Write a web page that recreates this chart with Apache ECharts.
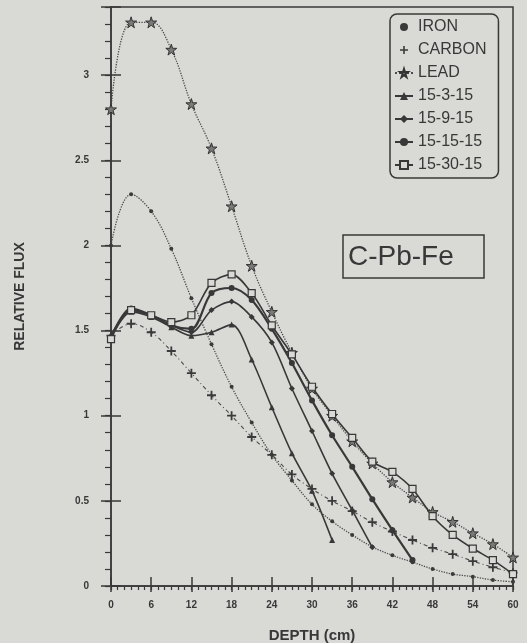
<!DOCTYPE html>
<html><head><meta charset="utf-8">
<script src="https://cdn.jsdelivr.net/npm/echarts@6/dist/echarts.min.js"></script>
<style>html,body{margin:0;padding:0;background:#d9d9d6;}#c{width:527px;height:643px;}</style>
</head><body><div id="c"></div>
<script>
// ---- data ----
const depth = [0, 3, 6, 9, 12, 15, 18, 21, 24, 27, 30, 33, 36, 39, 42, 45, 48, 51, 54, 57, 60];
const xTickLabels = ['0', '6', '12', '18', '24', '30', '36', '42', '48', '54', '60'];
const yTickLabels = ['0', '0.5', '1', '1.5', '2', '2.5', '3'];
const seriesNames = ['IRON', 'CARBON', 'LEAD', '15-3-15', '15-9-15', '15-15-15', '15-30-15'];
const iron = [2.0, 2.30, 2.20, 1.98, 1.69, 1.42, 1.17, 0.96, 0.77, 0.62, 0.48, 0.38, 0.30, 0.23, 0.18, 0.14, 0.10, 0.07, 0.055, 0.035, 0.025];
const carbon = [1.47, 1.54, 1.49, 1.38, 1.25, 1.12, 1.0, 0.875, 0.77, 0.655, 0.57, 0.50, 0.44, 0.375, 0.32, 0.27, 0.224, 0.187, 0.146, 0.11, 0.078];
const lead = [2.8, 3.31, 3.31, 3.15, 2.83, 2.57, 2.23, 1.88, 1.61, 1.37, 1.16, 1.0, 0.85, 0.72, 0.61, 0.52, 0.435, 0.377, 0.31, 0.246, 0.168];
const s15_3_15 = [1.46, 1.61, 1.58, 1.52, 1.47, 1.49, 1.535, 1.33, 1.05, 0.78, 0.56, 0.27];
const s15_9_15 = [1.47, 1.62, 1.59, 1.53, 1.49, 1.62, 1.67, 1.58, 1.43, 1.16, 0.91, 0.66, 0.445, 0.227];
const s15_15_15 = [1.46, 1.63, 1.59, 1.53, 1.51, 1.72, 1.75, 1.68, 1.51, 1.31, 1.09, 0.885, 0.70, 0.51, 0.328, 0.152];
const s15_30_15 = [1.45, 1.62, 1.59, 1.55, 1.59, 1.78, 1.83, 1.72, 1.53, 1.36, 1.17, 1.01, 0.87, 0.73, 0.67, 0.57, 0.41, 0.30, 0.22, 0.152, 0.07];

// ---- styling ----
const bg = '#d9d9d6';
const ink = '#383838';
const ff = '"Liberation Sans", Arial, sans-serif';
const plusSym = 'path://M4,0H6V4H10V6H6V10H4V6H0V4H4Z';
const starSym = 'path://M50,0L61,35L98,35L68,57L79,91L50,70L21,91L32,57L2,35L39,35Z';

const pairs = arr => arr.map((v, i) => [depth[i], v]);

const chart = echarts.init(document.getElementById('c'), null, {renderer: 'canvas'});

function mkX(extra) {
  return Object.assign({
    type: 'value', min: 0, max: 60, position: 'bottom', gridIndex: 0,
    splitLine: {show: false}, axisLine: {show: false, onZero: false},
    axisLabel: {show: false}
  }, extra);
}
function mkY(extra) {
  return Object.assign({
    type: 'value', min: 0, max: 3.4, position: 'left', gridIndex: 0,
    splitLine: {show: false}, axisLine: {show: false, onZero: false},
    axisLabel: {show: false}
  }, extra);
}

const option = {
  animation: false,
  backgroundColor: bg,
  grid: {left: 111, right: 14, top: 7, bottom: 57, show: true, borderColor: ink, borderWidth: 1.5,
         backgroundColor: 'transparent', outerBoundsMode: 'none'},
  legend: {
    orient: 'vertical', left: 390, top: 14, padding: [5, 12, 5, 4],
    itemWidth: 18, itemHeight: 10, itemGap: 7,
    borderColor: ink, borderWidth: 1.5, borderRadius: 7,
    textStyle: {fontSize: 16, color: ink, fontFamily: ff},
    data: [
      {name: 'IRON', lineStyle: {opacity: 0}},
      {name: 'CARBON', lineStyle: {opacity: 0}},
      {name: 'LEAD'}, {name: '15-3-15'}, {name: '15-9-15'}, {name: '15-15-15'}, {name: '15-30-15'}
    ]
  },
  xAxis: [
    mkX({interval: 1, axisLine: {show: true, onZero: false, lineStyle: {color: ink, width: 1.5}},
         axisTick: {show: true, length: 4, lineStyle: {color: ink, width: 1.2}}}),
    mkX({interval: 6, axisTick: {show: true, length: 6, lineStyle: {color: ink, width: 1.5}},
         axisLabel: {show: true, margin: 14, fontSize: 10, fontWeight: 'bold', color: ink, fontFamily: ff,
                     formatter: v => { const i = xTickLabels.indexOf(String(v)); return i >= 0 ? xTickLabels[i] : ''; }},
         name: 'DEPTH (cm)', nameLocation: 'middle', nameGap: 42,
         nameTextStyle: {fontSize: 15, fontWeight: 'bold', color: ink, fontFamily: ff}}),
    mkX({interval: 6, axisTick: {show: true, inside: true, length: 9, lineStyle: {color: ink, width: 1.5}}})
  ],
  yAxis: [
    mkY({interval: 0.1, axisLine: {show: true, onZero: false, lineStyle: {color: ink, width: 1.5}},
         axisTick: {show: true, length: 6, lineStyle: {color: ink, width: 1.2}}}),
    mkY({interval: 0.5, axisTick: {show: true, length: 10, lineStyle: {color: ink, width: 1.5}},
         axisLabel: {show: true, margin: 22, fontSize: 10, fontWeight: 'bold', color: ink, fontFamily: ff,
                     formatter: v => { const s = String(Math.round(v * 10) / 10); return yTickLabels.indexOf(s) >= 0 ? s : ''; }},
         name: 'RELATIVE FLUX', nameLocation: 'middle', nameGap: 84, nameRotate: 90,
         nameTextStyle: {fontSize: 14, fontWeight: 'bold', color: ink, fontFamily: ff}}),
    mkY({interval: 0.5, axisTick: {show: true, inside: true, length: 10, lineStyle: {color: ink, width: 1.5}}})
  ],
  graphic: [
    {type: 'rect', shape: {x: 343, y: 235, width: 141, height: 43}, style: {fill: 'none', stroke: ink, lineWidth: 1.5}, z: 10},
    {type: 'text', x: 348, y: 257, style: {text: 'C-Pb-Fe', fontSize: 28, fill: ink, fontFamily: ff, verticalAlign: 'middle'}, z: 10}
  ],
  series: [
    {name: 'IRON', type: 'line', data: pairs(iron), smooth: 0.4, symbol: 'circle', symbolSize: 4,
     lineStyle: {type: 'dotted', width: 1.3, color: '#4a4a4a'}, itemStyle: {color: '#3a3a3a'}},
    {name: 'CARBON', type: 'line', data: pairs(carbon), smooth: 0.4, symbol: plusSym, symbolSize: 9,
     lineStyle: {type: [4, 3, 1, 3], width: 1.1, color: '#4a4a4a'}, itemStyle: {color: '#3a3a3a'}},
    {name: 'LEAD', type: 'line', data: pairs(lead), smooth: 0.4, symbol: starSym, symbolSize: 11,
     lineStyle: {type: 'dotted', width: 1.3, color: '#4a4a4a'}, itemStyle: {color: '#7a7a78', borderColor: '#333333', borderWidth: 1}},
    {name: '15-3-15', type: 'line', data: pairs(s15_3_15), smooth: 0.3, symbol: 'triangle', symbolSize: 6,
     lineStyle: {width: 1.6, color: ink}, itemStyle: {color: ink}},
    {name: '15-9-15', type: 'line', data: pairs(s15_9_15), smooth: 0.3, symbol: 'diamond', symbolSize: 6,
     lineStyle: {width: 1.6, color: ink}, itemStyle: {color: ink}},
    {name: '15-15-15', type: 'line', data: pairs(s15_15_15), smooth: 0.3, symbol: 'circle', symbolSize: 6,
     lineStyle: {width: 2.2, color: ink}, itemStyle: {color: ink}},
    {name: '15-30-15', type: 'line', data: pairs(s15_30_15), smooth: 0.3, symbol: 'rect', symbolSize: 7,
     lineStyle: {width: 1.6, color: ink}, itemStyle: {color: bg, borderColor: ink, borderWidth: 1.2}}
  ]
};
chart.setOption(option);
</script></body></html>
